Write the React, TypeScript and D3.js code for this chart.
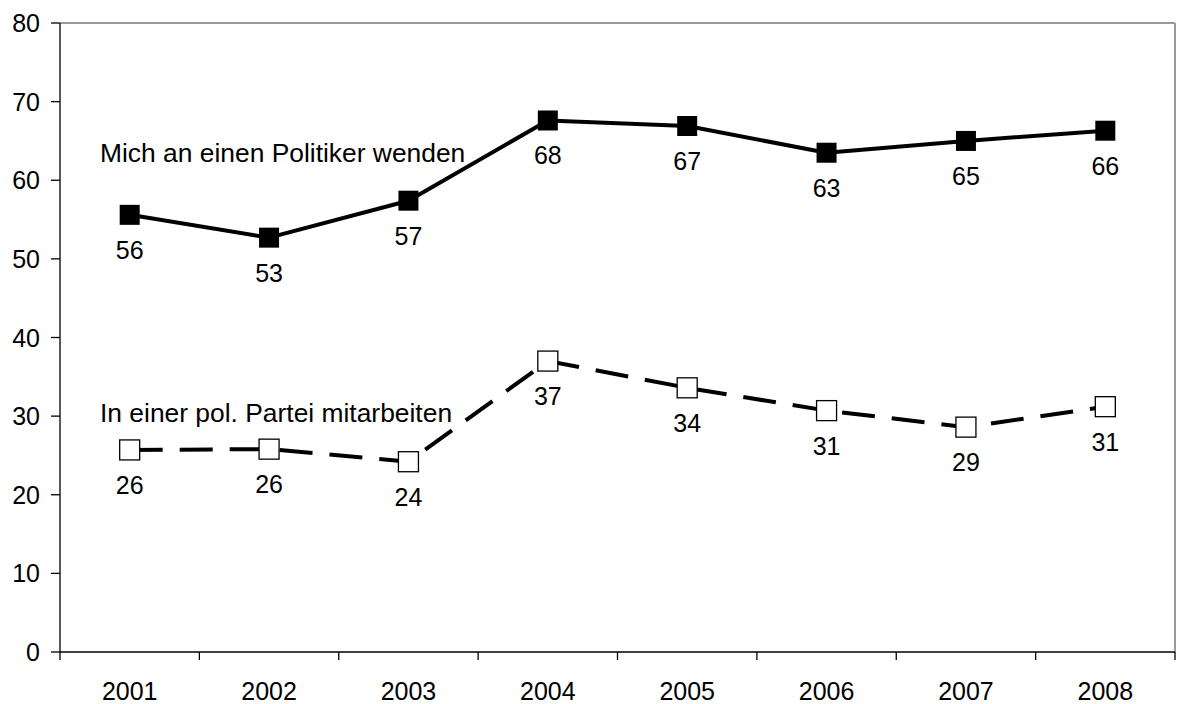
import React from "react";
import * as d3 from "d3";

const years = ["2001", "2002", "2003", "2004", "2005", "2006", "2007", "2008"];
const politikerValues = [55.6, 52.7, 57.4, 67.6, 66.9, 63.5, 65.0, 66.3];
const politikerLabels = ["56", "53", "57", "68", "67", "63", "65", "66"];
const parteiValues = [25.7, 25.8, 24.2, 37.0, 33.6, 30.7, 28.6, 31.2];
const parteiLabels = ["26", "26", "24", "37", "34", "31", "29", "31"];
const yTicks = [0, 10, 20, 30, 40, 50, 60, 70, 80];
const seriesNames = ["Mich an einen Politiker wenden", "In einer pol. Partei mitarbeiten"];

const W = 1179;
const H = 704;
const left = 60;
const right = 1175;
const top = 23;
const bottom = 652;
const font = "'Liberation Sans', Arial, sans-serif";

export default function App() {
  const x = d3.scaleBand<string>().domain(years).range([left, right]);
  const y = d3.scaleLinear().domain([0, 80]).range([bottom, top]);
  const cx = (d: string) => (x(d) as number) + x.bandwidth() / 2;
  const line = d3
    .line<number>()
    .x((_, i) => cx(years[i]))
    .y((v) => y(v));
  const bounds = [...years.map((d) => x(d) as number), right];
  const ms = 20;
  const fs = 25;

  return (
    <svg
      width={W}
      height={H}
      style={{ position: "absolute", left: 0, top: 0, background: "#fff" }}
      fontFamily={font}
    >
      <rect x={0} y={0} width={W} height={H} fill="#fff" />
      {/* frame */}
      <line x1={left} x2={right} y1={top} y2={top} stroke="#9a9a9a" strokeWidth={2} />
      <line x1={right} x2={right} y1={top} y2={bottom} stroke="#9a9a9a" strokeWidth={2} />
      {/* axes */}
      <line x1={left} x2={left} y1={top} y2={bottom} stroke="#000" strokeWidth={1.3} />
      <line x1={left} x2={right} y1={bottom} y2={bottom} stroke="#000" strokeWidth={1.3} />
      {yTicks.map((t) => (
        <g key={t}>
          <line x1={left - 9} x2={left} y1={y(t)} y2={y(t)} stroke="#000" strokeWidth={1.3} />
          <text x={40} y={y(t)} dy="0.36em" textAnchor="end" fontSize={fs} fill="#000">
            {t}
          </text>
        </g>
      ))}
      {bounds.map((b, i) => (
        <line key={i} x1={b} x2={b} y1={bottom} y2={bottom + 8} stroke="#000" strokeWidth={1.3} />
      ))}
      {years.map((d) => (
        <text key={d} x={cx(d)} y={700} textAnchor="middle" fontSize={fs} fill="#000">
          {d}
        </text>
      ))}
      {/* series 1 */}
      <path d={line(politikerValues) || ""} fill="none" stroke="#000" strokeWidth={4} strokeLinejoin="round" />
      {politikerValues.map((v, i) => (
        <rect key={i} x={cx(years[i]) - ms / 2} y={y(v) - ms / 2} width={ms} height={ms} fill="#000" />
      ))}
      {politikerValues.map((v, i) => (
        <text key={i} x={cx(years[i])} y={y(v) + 44} textAnchor="middle" fontSize={fs} fill="#000">
          {politikerLabels[i]}
        </text>
      ))}
      {/* series 2 */}
      <path
        d={line(parteiValues) || ""}
        fill="none"
        stroke="#000"
        strokeWidth={4}
        strokeDasharray="33 17"
      />
      {parteiValues.map((v, i) => (
        <rect
          key={i}
          x={cx(years[i]) - ms / 2}
          y={y(v) - ms / 2}
          width={ms}
          height={ms}
          fill="#fff"
          stroke="#000"
          strokeWidth={1.3}
        />
      ))}
      {parteiValues.map((v, i) => (
        <text key={i} x={cx(years[i])} y={y(v) + 44} textAnchor="middle" fontSize={fs} fill="#000">
          {parteiLabels[i]}
        </text>
      ))}
      <text x={100} y={162} fontSize={26.4} fill="#000">
        {seriesNames[0]}
      </text>
      <text x={100} y={422} fontSize={26.4} fill="#000">
        {seriesNames[1]}
      </text>
    </svg>
  );
}
